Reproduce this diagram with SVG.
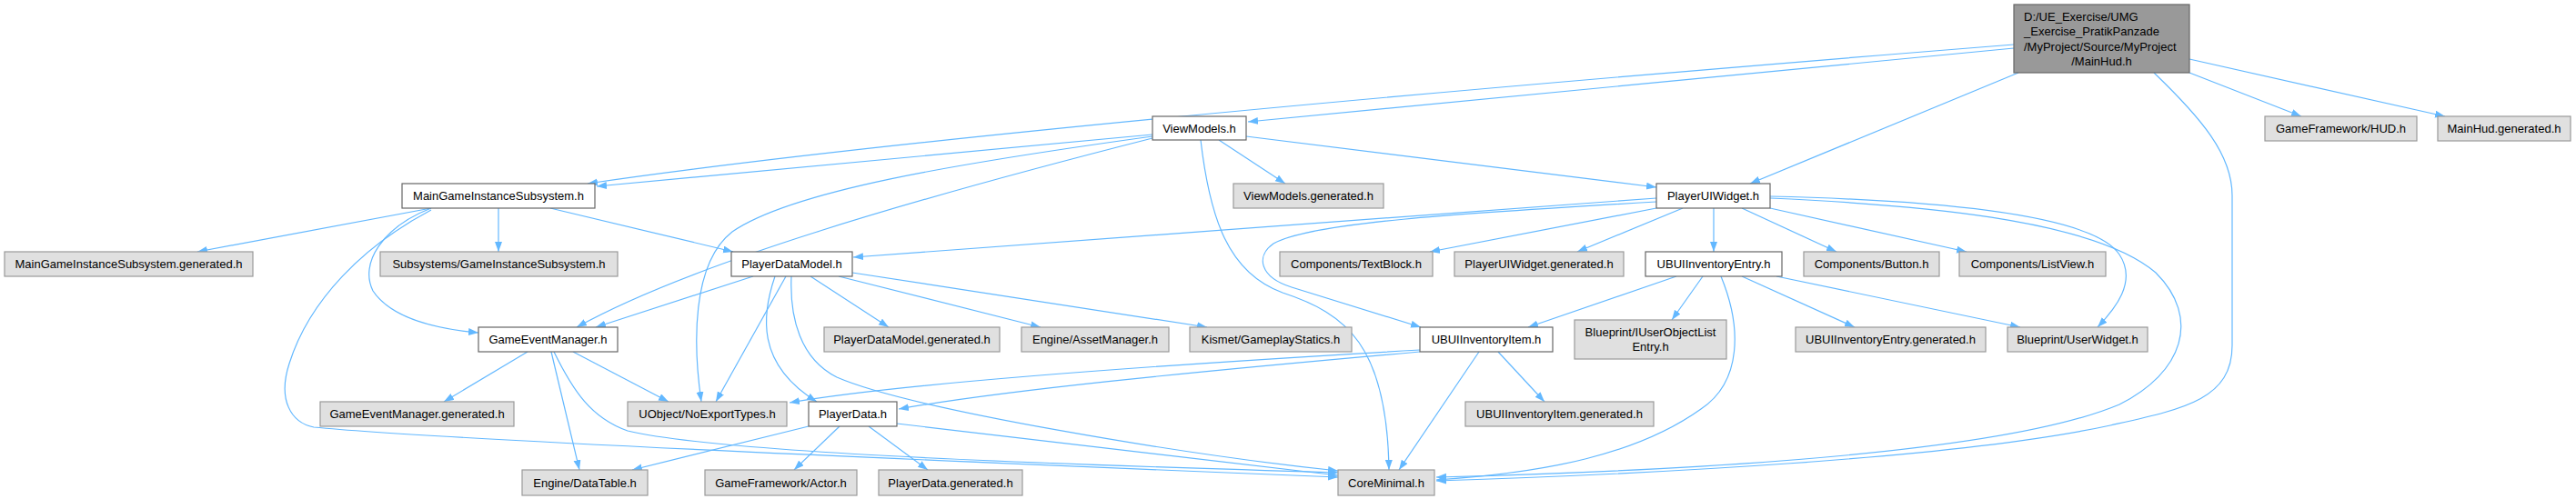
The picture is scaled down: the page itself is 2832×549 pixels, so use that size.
<svg xmlns="http://www.w3.org/2000/svg" width="2832" height="549" viewBox="0 0 2832 549">
<style>
.n rect{fill:#ffffff;stroke:#666666;stroke-width:1.2}
.x rect{fill:#e0e0e0;stroke:#999999;stroke-width:1.2}
.m rect{fill:#999999;stroke:#666666;stroke-width:1.2}
text{font-family:"Liberation Sans",Arial,sans-serif;font-size:13px;fill:#000000}
.c{text-anchor:middle}
#edges path{fill:none;stroke:#63b8ff;stroke-width:1.2;marker-end:url(#arr)}
</style>
<defs>
<marker id="arr" markerUnits="userSpaceOnUse" markerWidth="12" markerHeight="9" refX="11" refY="4" orient="auto">
<path d="M0,0 L11,4 L0,8 z" fill="#63b8ff"/>
</marker>
</defs>
<rect width="2832" height="549" fill="#ffffff"/>
<g id="edges">
<path d="M2214,53 L1372,134"/>
<path d="M2214,49 C1700,90 1000,150 646,202"/>
<path d="M2219,80 L1924,202"/>
<path d="M2407,80 L2530,128"/>
<path d="M2407,65 L2688,128"/>
<path d="M2368,80 C2420,130 2454,170 2454,215 L2454,380 C2454,440 2400,450 2320,468 C2150,505 1800,522 1579,529"/>
<path d="M1946,218 C2100,225 2300,240 2370,300 C2420,350 2400,410 2330,445 C2200,500 1850,518 1579,525"/>
<path d="M1946,216 C2120,220 2300,235 2330,280 C2350,310 2325,340 2306,360"/>
<path d="M1340,154 L1413,202"/>
<path d="M1370,150 L1821,206"/>
<path d="M1267,148 L656,205"/>
<path d="M1267,150 C1050,180 870,210 805,255 C760,290 762,380 771,442"/>
<path d="M1267,152 C1000,220 760,290 634,360"/>
<path d="M1320,154 C1330,240 1350,300 1410,322 C1480,345 1525,380 1527,517"/>
<path d="M1821,222 C1600,235 1440,245 1400,268 C1380,282 1385,305 1420,316 L1562,360"/>
<path d="M1821,218 L938,283"/>
<path d="M1821,229 L1572,277"/>
<path d="M1850,229 L1734,277"/>
<path d="M1884,229 L1884,277"/>
<path d="M1915,229 L2019,277"/>
<path d="M1946,229 L2162,277"/>
<path d="M474,229 L217,277"/>
<path d="M548,229 L548,277"/>
<path d="M605,229 L806,277"/>
<path d="M474,229 C420,250 395,290 410,320 C430,350 480,362 526,366"/>
<path d="M474,231 C400,270 340,330 318,400 C305,440 320,465 345,470 C500,485 1100,510 1471,525"/>
<path d="M580,387 L488,442"/>
<path d="M606,387 L637,517"/>
<path d="M630,387 L735,442"/>
<path d="M609,387 C630,430 650,460 690,474 C800,500 1200,512 1471,520"/>
<path d="M828,304 L655,360"/>
<path d="M891,304 L977,360"/>
<path d="M922,304 L1144,360"/>
<path d="M937,300 L1327,360"/>
<path d="M864,304 L787,442"/>
<path d="M852,304 C838,345 830,400 898,442"/>
<path d="M870,304 C868,350 880,395 920,415 C1000,450 1300,500 1471,518"/>
<path d="M1561,385 C1300,400 1000,420 868,443"/>
<path d="M1561,387 C1300,410 1100,430 988,450"/>
<path d="M1647,387 L1698,442"/>
<path d="M1626,387 L1538,517"/>
<path d="M889,469 L695,517"/>
<path d="M923,469 L873,517"/>
<path d="M955,469 L1020,517"/>
<path d="M986,466 L1471,523"/>
<path d="M1843,304 L1680,360"/>
<path d="M1872,304 L1838,352"/>
<path d="M1892,304 C1915,360 1915,420 1870,450 C1800,500 1700,520 1579,528"/>
<path d="M1915,304 L2039,360"/>
<path d="M1953,304 L2221,360"/>
</g>
<g id="node-main" class="m"><rect x="2214" y="5" width="193" height="75"/>
<text x="2225" y="22.5">D:/UE_Exercise/UMG</text>
<text x="2225" y="39">_Exercise_PratikPanzade</text>
<text x="2225" y="55.5">/MyProject/Source/MyProject</text>
<text class="c" x="2310.5" y="71.5">/MainHud.h</text></g>
<g id="node-viewmodels" class="n"><rect x="1267" y="128" width="103" height="26"/><text class="c" x="1318.5" y="145.5">ViewModels.h</text></g>
<g id="node-hud" class="x"><rect x="2490" y="128" width="167" height="27"/><text class="c" x="2573.5" y="146">GameFramework/HUD.h</text></g>
<g id="node-mainhudgen" class="x"><rect x="2680" y="128" width="146" height="27"/><text class="c" x="2753" y="146">MainHud.generated.h</text></g>
<g id="node-mgis" class="n"><rect x="442" y="202" width="212" height="27"/><text class="c" x="548" y="220">MainGameInstanceSubsystem.h</text></g>
<g id="node-viewmodelsgen" class="x"><rect x="1356" y="202" width="165" height="27"/><text class="c" x="1438.5" y="220">ViewModels.generated.h</text></g>
<g id="node-playeruiwidget" class="n"><rect x="1821" y="202" width="125" height="27"/><text class="c" x="1883.5" y="220">PlayerUIWidget.h</text></g>
<g id="node-mgisgen" class="x"><rect x="5" y="277" width="273" height="27"/><text class="c" x="141.5" y="295">MainGameInstanceSubsystem.generated.h</text></g>
<g id="node-gis" class="x"><rect x="418" y="277" width="261" height="27"/><text class="c" x="548.5" y="295">Subsystems/GameInstanceSubsystem.h</text></g>
<g id="node-playerdatamodel" class="n"><rect x="804" y="277" width="133" height="27"/><text class="c" x="870.5" y="295">PlayerDataModel.h</text></g>
<g id="node-textblock" class="x"><rect x="1407" y="277" width="168" height="27"/><text class="c" x="1491" y="295">Components/TextBlock.h</text></g>
<g id="node-playeruiwidgetgen" class="x"><rect x="1599" y="277" width="186" height="27"/><text class="c" x="1692" y="295">PlayerUIWidget.generated.h</text></g>
<g id="node-inventoryentry" class="n"><rect x="1809" y="277" width="150" height="27"/><text class="c" x="1884" y="295">UBUIInventoryEntry.h</text></g>
<g id="node-button" class="x"><rect x="1983" y="277" width="149" height="27"/><text class="c" x="2057.5" y="295">Components/Button.h</text></g>
<g id="node-listview" class="x"><rect x="2154" y="277" width="161" height="27"/><text class="c" x="2234.5" y="295">Components/ListView.h</text></g>
<g id="node-gameeventmanager" class="n"><rect x="526" y="360" width="153" height="27"/><text class="c" x="602.5" y="378">GameEventManager.h</text></g>
<g id="node-playerdatamodelgen" class="x"><rect x="906" y="360" width="193" height="27"/><text class="c" x="1002.5" y="378">PlayerDataModel.generated.h</text></g>
<g id="node-assetmanager" class="x"><rect x="1123" y="360" width="162" height="27"/><text class="c" x="1204" y="378">Engine/AssetManager.h</text></g>
<g id="node-gameplaystatics" class="x"><rect x="1308" y="360" width="178" height="27"/><text class="c" x="1397" y="378">Kismet/GameplayStatics.h</text></g>
<g id="node-inventoryitem" class="n"><rect x="1561" y="360" width="146" height="27"/><text class="c" x="1634" y="378">UBUIInventoryItem.h</text></g>
<g id="node-iuserobjectlistentry" class="x"><rect x="1731" y="352" width="167" height="43"/><text class="c" x="1814.5" y="369.5">Blueprint/IUserObjectList</text><text class="c" x="1814.5" y="385.5">Entry.h</text></g>
<g id="node-inventoryentrygen" class="x"><rect x="1974" y="360" width="209" height="27"/><text class="c" x="2078.5" y="378">UBUIInventoryEntry.generated.h</text></g>
<g id="node-userwidget" class="x"><rect x="2207" y="360" width="154" height="27"/><text class="c" x="2284" y="378">Blueprint/UserWidget.h</text></g>
<g id="node-gameeventmanagergen" class="x"><rect x="352" y="442" width="213" height="27"/><text class="c" x="458.5" y="460">GameEventManager.generated.h</text></g>
<g id="node-noexporttypes" class="x"><rect x="690" y="442" width="175" height="27"/><text class="c" x="777.5" y="460">UObject/NoExportTypes.h</text></g>
<g id="node-playerdata" class="n"><rect x="889" y="442" width="97" height="27"/><text class="c" x="937.5" y="460">PlayerData.h</text></g>
<g id="node-inventoryitemgen" class="x"><rect x="1611" y="442" width="207" height="27"/><text class="c" x="1714.5" y="460">UBUIInventoryItem.generated.h</text></g>
<g id="node-datatable" class="x"><rect x="574" y="517" width="138" height="28"/><text class="c" x="643" y="535.5">Engine/DataTable.h</text></g>
<g id="node-actor" class="x"><rect x="775" y="517" width="167" height="28"/><text class="c" x="858.5" y="535.5">GameFramework/Actor.h</text></g>
<g id="node-playerdatagen" class="x"><rect x="966" y="517" width="158" height="28"/><text class="c" x="1045" y="535.5">PlayerData.generated.h</text></g>
<g id="node-coreminimal" class="x"><rect x="1471" y="517" width="106" height="28"/><text class="c" x="1524" y="535.5">CoreMinimal.h</text></g>
</svg>
